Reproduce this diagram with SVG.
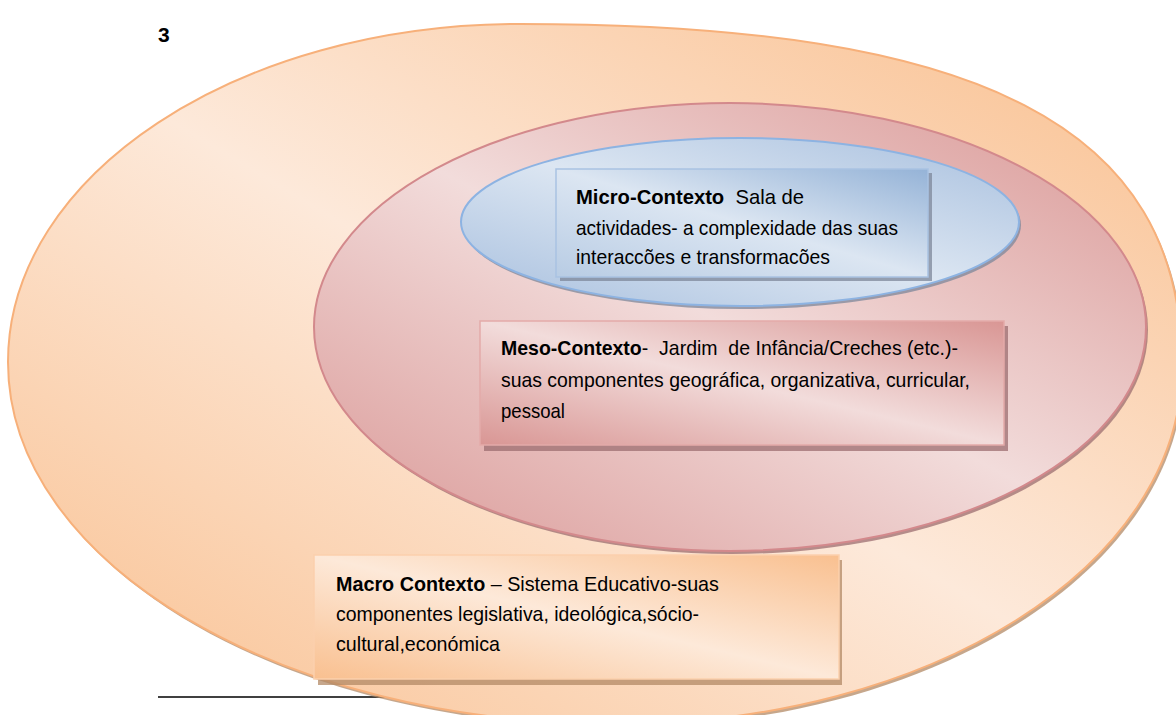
<svg xmlns="http://www.w3.org/2000/svg" width="1176" height="715" viewBox="0 0 1176 715">
  <defs>
    <linearGradient id="gOrange" x1="0" y1="1" x2="1" y2="0">
      <stop offset="0" stop-color="#f9bf8e"/>
      <stop offset="0.5" stop-color="#fde9da"/>
      <stop offset="1" stop-color="#f9bf8e"/>
    </linearGradient>
    <linearGradient id="gPink" x1="0" y1="1" x2="1" y2="0">
      <stop offset="0" stop-color="#d99694"/>
      <stop offset="0.5" stop-color="#f2dcdb"/>
      <stop offset="1" stop-color="#d99694"/>
    </linearGradient>
    <linearGradient id="gBlue" x1="0" y1="1" x2="1" y2="0">
      <stop offset="0" stop-color="#a7bfde"/>
      <stop offset="0.5" stop-color="#dce6f2"/>
      <stop offset="1" stop-color="#a7bfde"/>
    </linearGradient>
    <linearGradient id="gOrangeBox" x1="0" y1="1" x2="1" y2="0">
      <stop offset="0" stop-color="#f9c090"/>
      <stop offset="0.5" stop-color="#fde9d9"/>
      <stop offset="1" stop-color="#f9c090"/>
    </linearGradient>
    <linearGradient id="gPinkBox" x1="0" y1="1" x2="1" y2="0">
      <stop offset="0" stop-color="#d99694"/>
      <stop offset="0.5" stop-color="#f2dcdb"/>
      <stop offset="1" stop-color="#d99694"/>
    </linearGradient>
    <linearGradient id="gBlueBox" x1="0" y1="1" x2="1" y2="0">
      <stop offset="0" stop-color="#b8cce4"/>
      <stop offset="0.5" stop-color="#dce6f2"/>
      <stop offset="1" stop-color="#95b3d7"/>
    </linearGradient>
  </defs>
  <style>
    .txt { font-family: "Liberation Sans", Arial, sans-serif; font-size: 21px; fill: #000; }
    .b { font-weight: bold; }
    .shadowO { fill: #b38a66; opacity: 0.75; }
    .shadowP { fill: #9c6e70; opacity: 0.75; }
    .shadowB { fill: #7d8799; opacity: 0.75; }
  </style>
  <rect x="0" y="0" width="1176" height="715" fill="#ffffff"/>

  <g id="footnote">
    <line x1="158" y1="697" x2="420" y2="697" stroke="#000" stroke-width="1.5"/>
    <text class="txt b" x="158" y="42">3</text>
  </g>

  <g id="node-macro">
    <path class="shadowO" transform="translate(2,3)" d="M 8,362 C 8,175 237,24 520,24 C 983,24 1182,127 1182,366 C 1182,566 930,724 615,724 C 285,724 8,565 8,362 Z"/>
    <path fill="url(#gOrange)" stroke="#f7b07a" stroke-width="2" d="M 8,362 C 8,175 237,24 520,24 C 983,24 1182,127 1182,366 C 1182,566 930,724 615,724 C 285,724 8,565 8,362 Z"/>
  </g>

  <g id="node-meso">
    <ellipse class="shadowP" cx="732" cy="330" rx="416" ry="224"/>
    <ellipse cx="730" cy="327" rx="416" ry="224" fill="url(#gPink)" stroke="#d3898c" stroke-width="2"/>
  </g>

  <g id="node-micro">
    <ellipse class="shadowB" cx="742" cy="225" rx="279" ry="84"/>
    <ellipse cx="740" cy="222" rx="279" ry="84" fill="url(#gBlue)" stroke="#8db3e2" stroke-width="2"/>
  </g>

  <g id="label-micro">
    <rect class="shadowB" x="560" y="173" width="372" height="108"/>
    <rect x="556" y="169" width="372" height="108" fill="url(#gBlueBox)" stroke="#a9c2e2" stroke-width="1.5"/>
    <text class="txt" xml:space="preserve" x="576" y="204" textLength="228" lengthAdjust="spacingAndGlyphs"><tspan class="b">Micro-Contexto</tspan>  Sala de</text>
    <text class="txt" x="576" y="235" textLength="322" lengthAdjust="spacingAndGlyphs">actividades- a complexidade das suas</text>
    <text class="txt" x="576" y="264" textLength="254" lengthAdjust="spacingAndGlyphs">interaccões e transformacões</text>
  </g>

  <g id="label-meso">
    <rect class="shadowP" x="484" y="326" width="524" height="125"/>
    <rect x="480" y="321" width="524" height="124" fill="url(#gPinkBox)" stroke="#e3aaa9" stroke-width="1.5"/>
    <text class="txt" xml:space="preserve" x="501" y="355" textLength="457" lengthAdjust="spacingAndGlyphs"><tspan class="b">Meso-Contexto</tspan>-  Jardim  de Infância/Creches (etc.)-</text>
    <text class="txt" x="501" y="387" textLength="469" lengthAdjust="spacingAndGlyphs">suas componentes geográfica, organizativa, curricular,</text>
    <text class="txt" x="501" y="418" textLength="64" lengthAdjust="spacingAndGlyphs">pessoal</text>
  </g>

  <g id="label-macro">
    <rect class="shadowO" x="318" y="560" width="524" height="125"/>
    <rect x="314" y="555" width="525" height="124" fill="url(#gOrangeBox)" stroke="#fbd0ad" stroke-width="1.5"/>
    <text class="txt" x="336" y="591" textLength="383" lengthAdjust="spacingAndGlyphs"><tspan class="b">Macro Contexto</tspan> – Sistema Educativo-suas</text>
    <text class="txt" x="336" y="621" textLength="363" lengthAdjust="spacingAndGlyphs">componentes legislativa, ideológica,sócio-</text>
    <text class="txt" x="336" y="651" textLength="164" lengthAdjust="spacingAndGlyphs">cultural,económica</text>
  </g>

  <g id="connectors"/>
</svg>
